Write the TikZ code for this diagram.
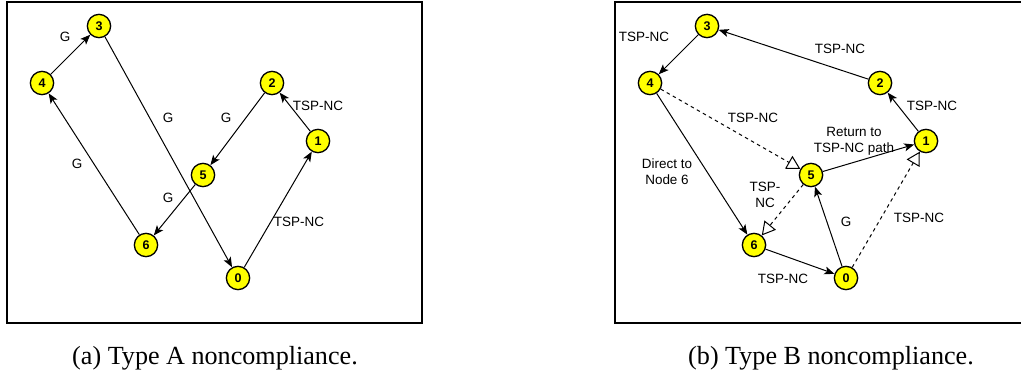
\documentclass[tikz,border=0pt]{standalone}
\usepackage{fontspec}
\setmainfont{Liberation Serif}
\setsansfont{Liberation Sans}
\usepackage{xcolor}
\definecolor{routeYellow}{HTML}{FFFF00}
\definecolor{lineBlack}{HTML}{000000}
\usepackage{tikz}
\usetikzlibrary{
    arrows.meta
}
\tikzset{
    % Numbered route nodes - yellow circles
    vertex/.style={
        circle,
        draw=lineBlack,
        line width=1pt,
        fill=routeYellow,
        minimum size=17.5pt,
        inner sep=0pt,
        font=\sffamily\bfseries\fontsize{9.4}{10}\selectfont,
    },
    % Panel frame
    frame/.style={
        draw=lineBlack,
        line width=1.5pt,
    },
    % Solid route arrow
    arrow/.style={
        -{Stealth[length=7.5pt, width=6pt, inset=1.8pt]},
        line width=0.75pt,
        draw=lineBlack,
    },
    % Dashed planned arrow with open head
    arrow dashed/.style={
        -{Triangle[open, length=10pt, width=11pt]},
        line width=0.75pt,
        dash pattern=on 2.6pt off 2.6pt,
        draw=lineBlack,
    },
    % Labels for G / TSP-NC
    edge label/.style={
        font=\sffamily\fontsize{10.1}{11.8}\selectfont,
        align=center,
        inner sep=0pt,
    },
    % Subfigure captions
    caption/.style={
        font=\rmfamily\fontsize{19.6}{22}\selectfont,
        anchor=base,
        inner sep=0pt,
    },
}

\begin{document}
\begin{tikzpicture}[x=0.75pt, y=-0.75pt]
    \useasboundingbox (0,0) rectangle (1021,374);

    % (a) Type A
    \draw [frame] (7,2) rectangle (422,323);
    \node (a3) [vertex] at (99,26) {3};
    \node (a4) [vertex] at (42,83) {4};
    \node (a2) [vertex] at (272,83) {2};
    \node (a1) [vertex] at (318,141) {1};
    \node (a5) [vertex] at (203,175) {5};
    \node (a6) [vertex] at (146,245) {6};
    \node (a0) [vertex] at (238,278) {0};

    \draw [arrow] (a4) -- (a3);
    \draw [arrow] (a3) -- (a0);
    \draw [arrow] (a0) -- (a1);
    \draw [arrow] (a1) -- (a2);
    \draw [arrow] (a2) -- (a5);
    \draw [arrow] (a5) -- (a6);
    \draw [arrow] (a6) -- (a4);

    \node (la43) [edge label] at (65,37) {G};
    \node (la30) [edge label] at (168,118) {G};
    \node (la25) [edge label] at (226,118) {G};
    \node (la12) [edge label] at (318,106) {TSP-NC};
    \node (la64) [edge label] at (77,164) {G};
    \node (la56) [edge label] at (168,198) {G};
    \node (la01) [edge label] at (299,222) {TSP-NC};

    \node (capa) [caption] at (215,364) {(a) Type A noncompliance.};

    % (b) Type B
    \begin{scope}[xshift=456pt]
        \draw [frame] (7,2) rectangle (422,323);
        \node (b3) [vertex] at (99,26) {3};
        \node (b4) [vertex] at (42,83) {4};
        \node (b2) [vertex] at (272,83) {2};
        \node (b1) [vertex] at (318,141) {1};
        \node (b5) [vertex] at (203,175) {5};
        \node (b6) [vertex] at (146,245) {6};
        \node (b0) [vertex] at (238,278) {0};

        \draw [arrow] (b3) -- (b4);
        \draw [arrow] (b2) -- (b3);
        \draw [arrow] (b1) -- (b2);
        \draw [arrow] (b5) -- (b1);
        \draw [arrow] (b4) -- (b6);
        \draw [arrow] (b0) -- (b5);
        \draw [arrow] (b6) -- (b0);
        \draw [arrow dashed] (b4) -- (b5);
        \draw [arrow dashed] (b5) -- (b6);
        \draw [arrow dashed] (b0) -- (b1);

        \node (lb34) [edge label] at (36,37) {TSP-NC};
        \node (lb23) [edge label] at (232,49) {TSP-NC};
        \node (lb12) [edge label] at (324,106) {TSP-NC};
        \node (lb45) [edge label] at (145,118) {TSP-NC};
        \node (lb51) [edge label] at (246,141) {Return to\\TSP-NC path};
        \node (lb46) [edge label] at (59,172) {Direct to\\Node 6};
        \node (lb56) [edge label] at (157,195) {TSP-\\NC};
        \node (lb05) [edge label] at (238,222) {G};
        \node (lb01) [edge label] at (311,218) {TSP-NC};
        \node (lb60) [edge label] at (175,279) {TSP-NC};
    \end{scope}

    \node (capb) [caption] at (831,364) {(b) Type B noncompliance.};
\end{tikzpicture}
\end{document}
